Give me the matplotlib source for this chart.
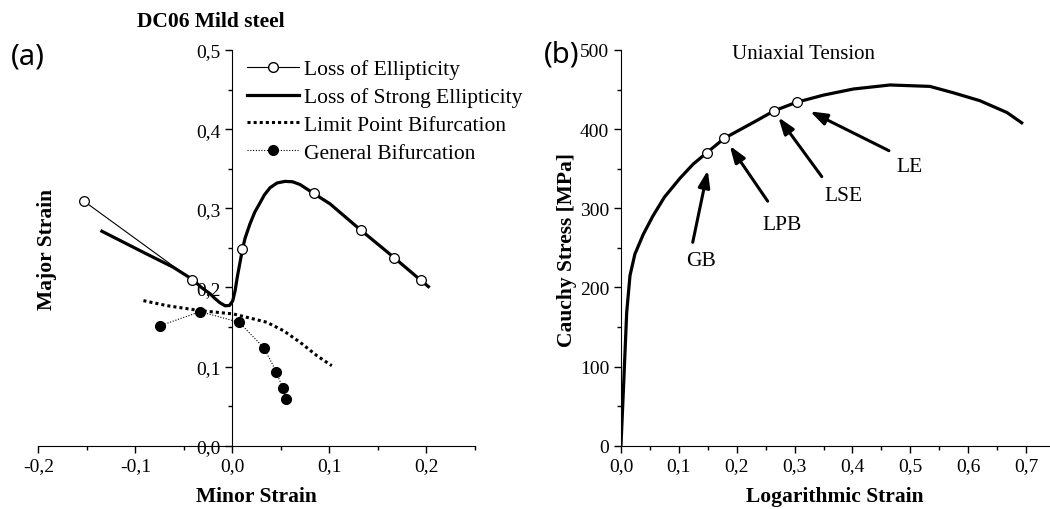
import matplotlib
matplotlib.use("Agg")
import matplotlib.pyplot as plt
from matplotlib.lines import Line2D
from matplotlib.ticker import MultipleLocator, FuncFormatter

plt.rcParams['font.family'] = ['Liberation Serif', 'DejaVu Serif']

# (a) forming limit curves, DC06 mild steel
minor_le = [-0.153, -0.042, 0.010, 0.084, 0.132, 0.167, 0.194]
major_le = [0.309, 0.210, 0.248, 0.319, 0.273, 0.237, 0.209]

minor_lse = [-0.1345, -0.092, -0.061, -0.041, -0.032, -0.023, -0.018, -0.0127, -0.0075,
             -0.003, 0.0004, 0.0028, 0.005, 0.0079, 0.0103, 0.013, 0.018, 0.023,
             0.0285, 0.033, 0.0388, 0.046, 0.0543, 0.062, 0.0697, 0.076, 0.0834,
             0.1006, 0.132, 0.167, 0.194, 0.202]
major_lse = [0.271, 0.2445, 0.2255, 0.210, 0.200, 0.192, 0.186, 0.1805, 0.1768,
             0.1772, 0.1833, 0.196, 0.213, 0.232, 0.248, 0.262, 0.280, 0.295,
             0.307, 0.317, 0.326, 0.332, 0.334, 0.3335, 0.330, 0.325, 0.319,
             0.3056, 0.2727, 0.2373, 0.2091, 0.201]

minor_lpb = [-0.0917, -0.0676, -0.0333, 0.001, 0.0354, 0.0525, 0.0697, 0.087, 0.1024]
major_lpb = [0.1833, 0.177, 0.1707, 0.1665, 0.156, 0.1454, 0.1307, 0.1138, 0.1011]

minor_gb = [-0.075, -0.0333, 0.0069, 0.0326, 0.0453, 0.0519, 0.055]
major_gb = [0.1513, 0.1694, 0.156, 0.1235, 0.0932, 0.0726, 0.0587]

# (b) uniaxial tension curve
strain = [0, 0.005, 0.0099, 0.0156, 0.024, 0.0385, 0.055, 0.075, 0.102, 0.125, 0.148,
          0.1785, 0.2, 0.235, 0.265, 0.3037, 0.35, 0.4015, 0.465, 0.534, 0.574,
          0.620, 0.667, 0.6925]
stress = [0, 84, 168.6, 215, 242, 267, 290, 314, 338, 356, 370,
          388.4, 397, 411, 423.3, 434, 443, 450.7, 455.8, 454, 446,
          436, 421, 408]

mark_strain = [0.148, 0.1785, 0.265, 0.3037]
mark_stress = [370, 388.4, 423.3, 434]

ann_labels = ["GB", "LPB", "LSE", "LE"]
ann_text_xy = [(0.138, 234), (0.278, 280), (0.385, 316.5), (0.498, 352.8)]
ann_tail = [(0.124, 257), (0.2535, 309), (0.347, 340), (0.463, 372.8)]
ann_head = [(0.150, 348), (0.188, 379), (0.272, 415), (0.3267, 422.5)]

comma1 = FuncFormatter(lambda v, p: f"{v:.1f}".replace(".", ",").replace("-0,0", "0,0"))

fig = plt.figure(figsize=(10.5, 5.1), dpi=100)

# ---- panel (a)
ax1 = fig.add_axes([0.0365, 0.1241, 0.4159, 0.7759])
ax1.plot(minor_lse, major_lse, color='k', lw=2.3, zorder=3, solid_joinstyle='round')
ax1.plot(minor_le[:2], major_le[:2], color='k', lw=0.8, zorder=2)
ax1.plot(minor_le, major_le, ls='none', marker='o', ms=7, mfc='white', mec='k', mew=0.9, zorder=4)
ax1.plot(minor_lpb, major_lpb, color='k', lw=2.2, ls=(0, (1, 1)), zorder=2)
ax1.plot(minor_gb, major_gb, color='k', lw=0.8, ls=(0, (1, 1.5)), marker='o', ms=7,
         mfc='k', mec='k', zorder=3)

ax1.set_xlim(-0.2, 0.25)
ax1.set_ylim(0, 0.5)
ax1.spines['left'].set_position(('data', 0))
ax1.spines['top'].set_visible(False)
ax1.spines['right'].set_visible(False)
ax1.xaxis.set_major_locator(MultipleLocator(0.1))
ax1.xaxis.set_minor_locator(MultipleLocator(0.05))
ax1.yaxis.set_major_locator(MultipleLocator(0.1))
ax1.yaxis.set_minor_locator(MultipleLocator(0.05))
ax1.xaxis.set_major_formatter(comma1)
ax1.yaxis.set_major_formatter(comma1)
ax1.tick_params(which='major', direction='out', length=5, width=1, labelsize=14)
ax1.tick_params(which='minor', direction='out', length=3, width=1)

handles = [
    Line2D([], [], color='k', lw=0.8, marker='o', ms=7, mfc='white', mec='k'),
    Line2D([], [], color='k', lw=2.3),
    Line2D([], [], color='k', lw=2.2, ls=(0, (1, 1))),
    Line2D([], [], color='k', lw=0.8, ls=(0, (1, 1.5)), marker='o', ms=7, mfc='k'),
]
labels = ["Loss of Ellipticity", "Loss of Strong Ellipticity",
          "Limit Point Bifurcation", "General Bifurcation"]
fig.legend(handles, labels, loc='upper left', bbox_to_anchor=(0.2352, 0.882),
           frameon=False, fontsize=15.5, handlelength=2.4, handletextpad=0.25,
           borderpad=0, borderaxespad=0, labelspacing=0.36)

fig.text(0.2008, 0.9575, "DC06 Mild steel", ha='center', va='center',
         fontsize=15.5, fontweight='bold')
fig.text(0.0445, 0.51, "Major Strain", ha='center', va='center', rotation=90,
         fontsize=15.5, fontweight='bold')
fig.text(0.2445, 0.026, "Minor Strain", ha='center', va='center',
         fontsize=15.5, fontweight='bold')
fig.text(0.0267, 0.888, "(a)", ha='center', va='center', fontsize=21,
         family=['Noto Sans', 'DejaVu Sans'])

# ---- panel (b)
ax2 = fig.add_axes([0.5914, 0.1241, 0.4086, 0.7759])
ax2.plot(strain, stress, color='k', lw=2.3, zorder=2, solid_joinstyle='round')
ax2.plot(mark_strain, mark_stress, ls='none', marker='o', ms=7, mfc='white',
         mec='k', mew=0.9, zorder=3)
for lab, txy, tail, head in zip(ann_labels, ann_text_xy, ann_tail, ann_head):
    ax2.annotate("", xy=head, xytext=tail,
                 arrowprops=dict(arrowstyle='-|>,head_length=1.0,head_width=0.35',
                                 color='k', lw=2.2, shrinkA=0, shrinkB=0))
    ax2.text(txy[0], txy[1], lab, ha='center', va='center', fontsize=15.5)
ax2.text(0.315, 495.6, "Uniaxial Tension", ha='center', va='center', fontsize=15)

ax2.set_xlim(0, 0.7414)
ax2.set_ylim(0, 500)
ax2.spines['top'].set_visible(False)
ax2.spines['right'].set_visible(False)
ax2.xaxis.set_major_locator(MultipleLocator(0.1))
ax2.xaxis.set_minor_locator(MultipleLocator(0.05))
ax2.yaxis.set_major_locator(MultipleLocator(100))
ax2.yaxis.set_minor_locator(MultipleLocator(50))
ax2.xaxis.set_major_formatter(comma1)
ax2.tick_params(which='major', direction='out', length=5, width=1, labelsize=14)
ax2.tick_params(which='minor', direction='out', length=3, width=1)

fig.text(0.54, 0.51, "Cauchy Stress [MPa]", ha='center', va='center', rotation=90,
         fontsize=15.5, fontweight='bold')
fig.text(0.795, 0.026, "Logarithmic Strain", ha='center', va='center',
         fontsize=15.5, fontweight='bold')
fig.text(0.535, 0.892, "(b)", ha='center', va='center', fontsize=21,
         family=['Noto Sans', 'DejaVu Sans'])

fig.savefig("out.png", dpi=100)
